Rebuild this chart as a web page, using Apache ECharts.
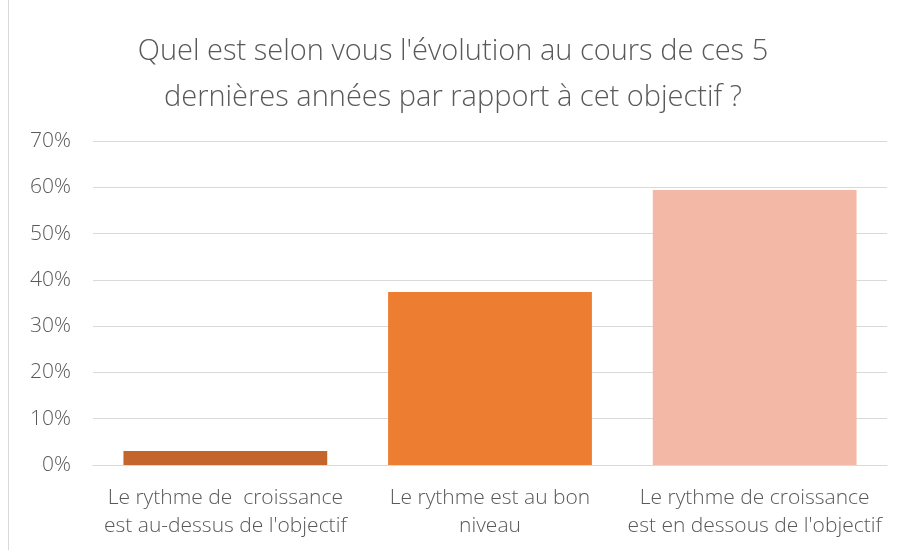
<!DOCTYPE html>
<html lang="fr">
<head>
    <meta charset="UTF-8">
    <title>Évolution par rapport à l'objectif</title>
    <script src="https://cdn.jsdelivr.net/npm/echarts@6/dist/echarts.min.js"></script>
    <style>
        html, body { margin: 0; padding: 0; background: #fff; }
        #chart { width: 906px; height: 550px; }
    </style>
</head>
<body>
<div id="chart"></div>
<script>
    var categories = [
        "Le rythme de  croissance\nest au-dessus de l'objectif",
        "Le rythme est au bon\nniveau",
        "Le rythme de croissance\nest en dessous de l'objectif"
    ];
    var values = [3.0, 37.4, 59.4];
    var barColors = ['#C4662B', '#ED7D31', '#F4B8A6'];

    var font = "'Open Sans', sans-serif";
    var myChart = echarts.init(document.getElementById('chart'));
    myChart.setOption({
        animation: false,
        title: {
            text: "Quel est selon vous l'évolution au cours de ces 5\ndernières années par rapport à cet objectif ?",
            left: 'center',
            top: 24,
            textStyle: {
                fontFamily: font,
                fontWeight: 300,
                fontSize: 29,
                lineHeight: 46,
                color: '#595959'
            }
        },
        graphic: [{
            type: 'line',
            shape: { x1: 8.5, y1: 0, x2: 8.5, y2: 550 },
            style: { stroke: '#d9d9d9', lineWidth: 1 }
        }],
        grid: { left: 93, right: 19, top: 141, bottom: 85 },
        xAxis: {
            type: 'category',
            data: categories,
            axisTick: { show: false },
            axisLine: { lineStyle: { color: '#d9d9d9', width: 1 } },
            axisLabel: {
                interval: 0,
                margin: 19,
                fontFamily: font,
                fontWeight: 300,
                fontSize: 21,
                lineHeight: 28,
                color: '#595959'
            }
        },
        yAxis: {
            type: 'value',
            min: 0,
            max: 70,
            interval: 10,
            axisLine: { show: false },
            axisTick: { show: false },
            splitLine: { lineStyle: { color: '#d9d9d9', width: 1 } },
            axisLabel: {
                formatter: '{value}%',
                margin: 22,
                fontFamily: font,
                fontWeight: 300,
                fontSize: 21,
                color: '#595959'
            }
        },
        series: [{
            type: 'bar',
            data: values.map(function (v, i) {
                return { value: v, itemStyle: { color: barColors[i] } };
            }),
            barCategoryGap: '23%'
        }]
    });
</script>
</body>
</html>
